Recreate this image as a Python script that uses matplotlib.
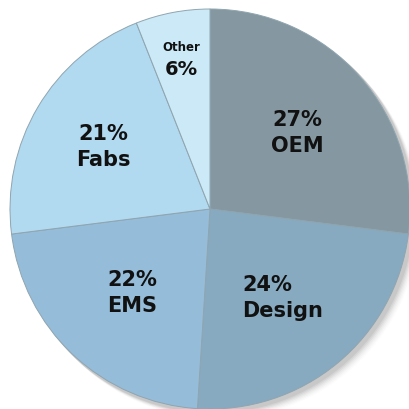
import numpy as np
import matplotlib.pyplot as plt
from matplotlib.patches import Circle

# slices, clockwise from 12 o'clock
labels = ["OEM", "Design", "EMS", "Fabs", "Other"]
shares = [27, 24, 22, 21, 6]
colors = ["#8598a1", "#87aac1", "#95bdda", "#b1d9ef", "#cbe9f6"]
label_dist = [0.58, 0.57, 0.57, 0.62, 0.77]

fig = plt.figure(figsize=(4.09, 4.10), dpi=100)
ax = fig.add_axes([0, 0, 1, 1])

cx, cy, R = 210, 200, 200

# soft shadow down-right
for i, a in enumerate(np.linspace(0.05, 0.012, 7)):
    ax.add_patch(Circle((cx + 3 + i, cy - 3 - i), R + 1, color="black",
                        alpha=a, lw=0, zorder=0))

wedges, _ = ax.pie(shares, colors=colors, startangle=90, counterclock=False,
                   center=(cx, cy), radius=R,
                   wedgeprops=dict(edgecolor="#8fa5b0", linewidth=0.7))
for w in wedges:
    w.set_zorder(1)

# pie() resets the limits, so set them afterwards
ax.set_xlim(0, 409)
ax.set_ylim(0, 410)
ax.set_aspect("equal")
ax.axis("off")

fnt = "DejaVu Sans"
for w, lab, val, d in zip(wedges, labels, shares, label_dist):
    mid = np.deg2rad((w.theta1 + w.theta2) / 2)
    x = cx + d * R * np.cos(mid)
    y = cy + d * R * np.sin(mid)
    if lab == "Other":
        ax.text(x, y + 11, lab, ha="center", va="center", fontsize=8.5,
                fontweight="bold", family=fnt, color="#111111", zorder=3)
        ax.text(x, y - 11, f"{val}%", ha="center", va="center", fontsize=14,
                fontweight="bold", family=fnt, color="#111111", zorder=3)
    else:
        ax.text(x, y, f"{val}%\n{lab}", ha="center", va="center", fontsize=15,
                fontweight="bold", family=fnt, color="#111111",
                linespacing=1.35, zorder=3,
                multialignment="left" if lab == "Design" else "center")

fig.savefig("out.png", dpi=100, facecolor="white")
